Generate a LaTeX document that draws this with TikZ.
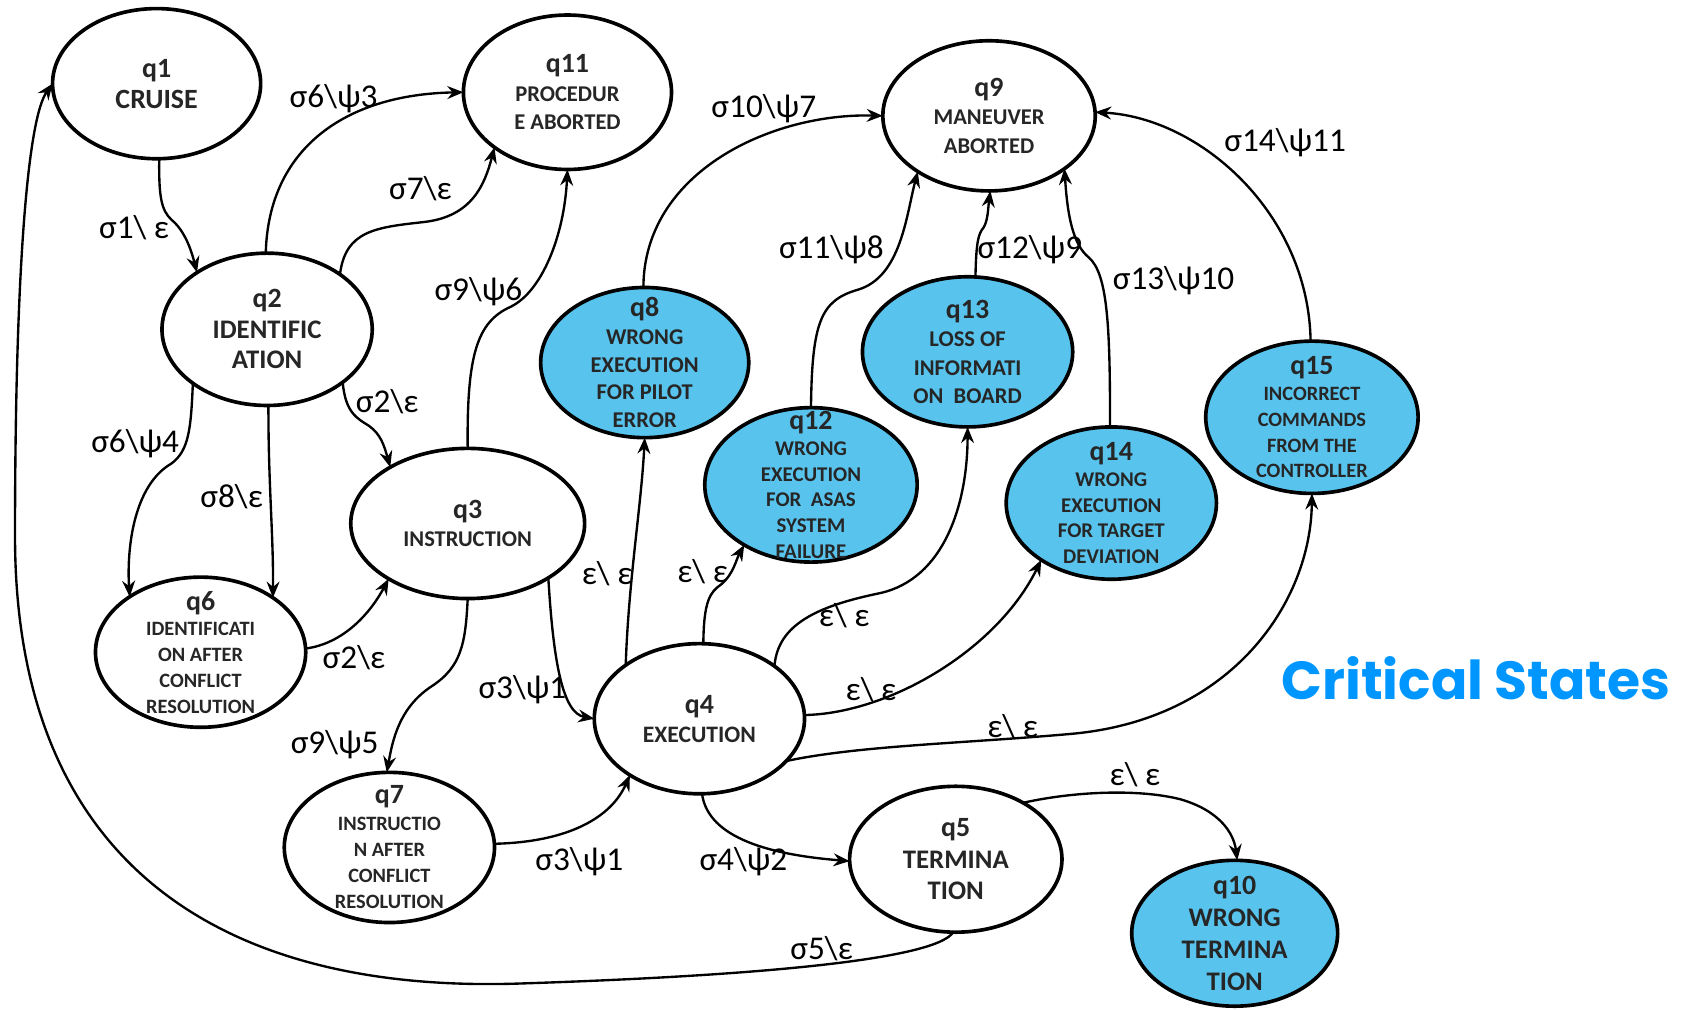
\documentclass[tikz,border=0pt]{standalone}
\usepackage{fontspec}
\setmainfont{Carlito}
\newfontfamily\titlefont{Poppins}
\usetikzlibrary{shapes.geometric,arrows.meta}
\definecolor{critfill}{RGB}{88,196,238}
\definecolor{titleblue}{RGB}{0,150,255}
\definecolor{statetext}{RGB}{38,38,38}
\newcommand{\stnum}[1]{{\fontsize{26}{26}\selectfont #1}}
\newcommand{\bs}{\textbackslash}
\begin{document}
\begin{tikzpicture}[x=1pt,y=-1pt,
  plain/.style={ellipse, draw=black, line width=3.4pt, fill=white, inner sep=0pt, outer sep=0pt},
  crit/.style={plain, fill=critfill},
  stxt/.style 2 args={align=center, text=statetext, inner sep=0pt, font=\bfseries\fontsize{#1}{#2}\selectfont},
  tr/.style={line width=2.2pt, -{Stealth[length=15pt,width=12pt,inset=5pt]}},
  lab/.style={inner sep=0pt, font=\fontsize{31}{31}\selectfont}]

\useasboundingbox (0,0) rectangle (1568,941);

% ---------- states ----------
\node[plain, minimum width=194pt, minimum height=140pt] (q1)  at (146,78)  {};
\node[plain, minimum width=194pt, minimum height=144pt] (q11) at (529,86)  {};
\node[plain, minimum width=198pt, minimum height=140pt] (q9)  at (922,108) {};
\node[plain, minimum width=196pt, minimum height=142pt] (q2)  at (249,307) {};
\node[plain, minimum width=218pt, minimum height=140pt] (q3)  at (436,488) {};
\node[plain, minimum width=196pt, minimum height=140pt] (q6)  at (187,608) {};
\node[plain, minimum width=196pt, minimum height=140pt] (q7)  at (363,790) {};
\node[plain, minimum width=196pt, minimum height=140pt] (q4)  at (652,670) {};
\node[plain, minimum width=198pt, minimum height=136pt] (q5)  at (891,801) {};
\node[crit,  minimum width=192pt, minimum height=136pt] (q10) at (1151,870) {};
\node[crit,  minimum width=194pt, minimum height=140pt] (q8)  at (601,338) {};
\node[crit,  minimum width=198pt, minimum height=144pt] (q12) at (756,452) {};
\node[crit,  minimum width=196pt, minimum height=140pt] (q13) at (902,328) {};
\node[crit,  minimum width=196pt, minimum height=142pt] (q14) at (1036,469) {};
\node[crit,  minimum width=198pt, minimum height=142pt] (q15) at (1223,389) {};

% ---------- state names ----------
\node[stxt={26}{29}]   (t1)  at (q1)  {\stnum{q1}\\CRUISE};
\node[stxt={21}{26.5}] (t11) at (q11) {\stnum{q11}\\PROCEDUR\\E ABORTED};
\node[stxt={21}{26.5}] (t9)  at (q9)  {\stnum{q9}\\MANEUVER\\ABORTED};
\node[stxt={25}{28.5}] (t2)  at (q2)  {\stnum{q2}\\IDENTIFIC\\ATION};
\node[stxt={21}{26}]   (t3)  at (q3)  {\stnum{q3}\\INSTRUCTION};
\node[stxt={19}{24}]   (t6)  at (q6)  {\stnum{q6}\\IDENTIFICATI\\ON AFTER\\CONFLICT\\RESOLUTION};
\node[stxt={19}{24.5}] (t7)  at (q7)  {\stnum{q7}\\INSTRUCTIO\\N AFTER\\CONFLICT\\RESOLUTION};
\node[stxt={22}{27}]   (t4)  at (q4)  {\stnum{q4}\\EXECUTION};
\node[stxt={25}{29.5}] (t5)  at (q5)  {\stnum{q5}\\TERMINA\\TION};
\node[stxt={25}{30}]   (t10) at (q10) {\stnum{q10}\\WRONG\\TERMINA\\TION};
\node[stxt={21}{25.7}] (t8)  at (q8)  {\stnum{q8}\\WRONG\\EXECUTION\\FOR PILOT\\ERROR};
\node[stxt={19.5}{24}] (t12) at (q12) {\stnum{q12}\\WRONG\\EXECUTION\\FOR\ \ ASAS\\SYSTEM\\FAILURE};
\node[stxt={21}{26.3}] (t13) at (q13) {\stnum{q13}\\LOSS OF\\INFORMATI\\ON\ \ BOARD};
\node[stxt={19.5}{24}] (t14) at (q14) {\stnum{q14}\\WRONG\\EXECUTION\\FOR TARGET\\DEVIATION};
\node[stxt={19}{24}]   (t15) at (q15) {\stnum{q15}\\INCORRECT\\COMMANDS\\FROM THE\\CONTROLLER};

% ---------- transitions ----------
\draw[tr] (q1.-88) .. controls (148,182) and (150,196) .. (160,205)
          .. controls (172,215) and (178,232) .. (q2.141);
\draw[tr] (q2.91) .. controls (250,140) and (320,88) .. (q11.180);
\draw[tr] (q2.37) .. controls (322,215) and (350,212) .. (395,207)
          .. controls (440,202) and (452,172) .. (q11.217);
\draw[tr] (q2.-35) .. controls (322,385) and (333,390) .. (344,397)
          .. controls (355,405) and (358,415) .. (q3.144);
\draw[tr] (q2.216) .. controls (178,400) and (176,420) .. (160,432)
          .. controls (125,452) and (118,510) .. (q6.142);
\draw[tr] (q2.-89) .. controls (250,450) and (255,500) .. (q6.37);
\draw[tr] (q6.2) .. controls (320,600) and (345,572) .. (q3.215);
\draw[tr] (q3.90) .. controls (435,330) and (445,300) .. (476,286)
          .. controls (505,272) and (526,220) .. (q11.-90);
\draw[tr] (q3.-90) .. controls (434,600) and (430,622) .. (402,640)
          .. controls (372,660) and (366,690) .. (q7.92);
\draw[tr] (q3.-34) .. controls (516,620) and (525,665) .. (q4.180);
\draw[tr] (q7.2) .. controls (530,785) and (570,762) .. (q4.219);
\draw[tr] (q4.-88) .. controls (660,782) and (720,797) .. (q5.181);
\draw[tr] (q5.-92) .. controls (872,895) and (700,910) .. (480,917)
          .. controls (200,925) and (14,800) .. (14,500)
          .. controls (14,250) and (26,110) .. (q1.180);
\draw[tr] (q5.40) .. controls (1000,738) and (1060,735) .. (1100,745)
          .. controls (1135,755) and (1150,775) .. (q10.88);
\draw[tr] (q4.-26) .. controls (800,695) and (900,693) .. (1000,684)
          .. controls (1150,670) and (1222,560) .. (q15.-90);
\draw[tr] (q4.2) .. controls (830,665) and (930,605) .. (q14.219);
\draw[tr] (q4.35) .. controls (725,582) and (762,565) .. (820,553)
          .. controls (880,540) and (902,470) .. (q13.-90);
\draw[tr] (q4.87) .. controls (656,560) and (662,552) .. (672,545)
          .. controls (684,535) and (686,522) .. (q12.222);
\draw[tr] (q4.144) .. controls (586,540) and (598,470) .. (q8.-90);
\draw[tr] (q8.91) .. controls (600,160) and (720,105) .. (q9.180);
\draw[tr] (q12.90) .. controls (757,300) and (765,280) .. (800,270)
          .. controls (840,258) and (845,200) .. (q9.218);
\draw[tr] (q13.84) .. controls (910,225) and (912,218) .. (917,212)
          .. controls (921,205) and (921,195) .. (q9.-89);
\draw[tr] (q14.91) .. controls (1035,300) and (1032,255) .. (1015,240)
          .. controls (1000,228) and (995,200) .. (q9.-35);
\draw[tr] (q15.91) .. controls (1220,200) and (1120,110) .. (q9.2);

% ---------- transition labels ----------
\node[lab] (l1)  at (125,212) {σ1\bs{} ε};
\node[lab] (l2)  at (311,92)  {σ6\bs ψ3};
\node[lab] (l3)  at (392,176) {σ7\bs ε};
\node[lab] (l4)  at (361,374) {σ2\bs ε};
\node[lab] (l5)  at (126,414) {σ6\bs ψ4};
\node[lab] (l6)  at (216,463) {σ8\bs ε};
\node[lab] (l7)  at (330,613) {σ2\bs ε};
\node[lab] (l8)  at (446,272) {σ9\bs ψ6};
\node[lab] (l9)  at (312,694) {σ9\bs ψ5};
\node[lab] (l10) at (487,643) {σ3\bs ψ1};
\node[lab] (l11) at (540,803) {σ3\bs ψ1};
\node[lab] (l12) at (693,803) {σ4\bs ψ2};
\node[lab] (l13) at (766,884) {σ5\bs ε};
\node[lab] (l14) at (1058,722) {ε\bs{} ε};
\node[lab] (l15) at (944,677) {ε\bs{} ε};
\node[lab] (l16) at (812,643) {ε\bs{} ε};
\node[lab] (l17) at (787,574) {ε\bs{} ε};
\node[lab] (l18) at (655,533) {ε\bs{} ε};
\node[lab] (l19) at (566,535) {ε\bs{} ε};
\node[lab] (l20) at (712,101) {σ10\bs ψ7};
\node[lab] (l21) at (775,233) {σ11\bs ψ8};
\node[lab] (l22) at (960,233) {σ12\bs ψ9};
\node[lab] (l23) at (1094,262) {σ13\bs ψ10};
\node[lab] (l24) at (1198,133) {σ14\bs ψ11};

% ---------- legend ----------
\node[inner sep=0pt, text=titleblue, font=\titlefont\bfseries\fontsize{50}{50}\selectfont] (crit) at (1376,632) {Critical States};
\end{tikzpicture}
\end{document}
